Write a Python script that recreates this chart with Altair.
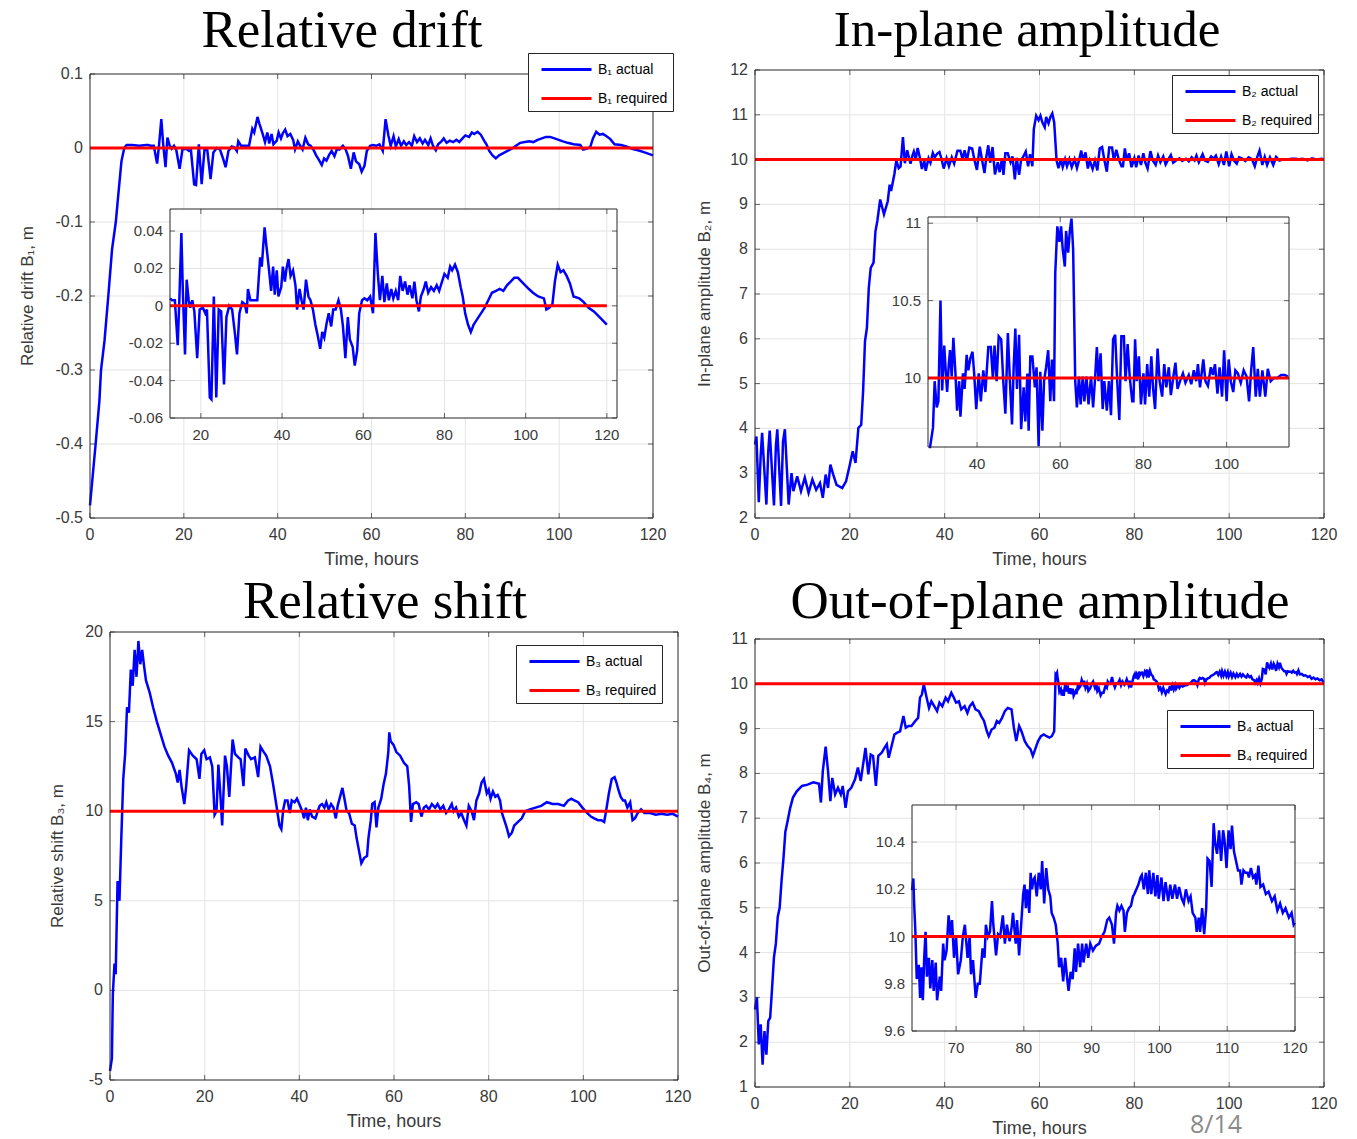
import altair as alt
import pandas as pd

# ---------------- data (time in hours, value) ----------------
s1_actual = [
    (0, -0.483), (1.2, -0.40), (2.0, -0.342), (2.35, -0.30), (3.1, -0.26), (3.9, -0.20),
    (4.7, -0.137), (5.5, -0.10), (5.9, -0.072), (6.7, -0.018), (7.3, 0.0), (7.8, 0.004),
    (9.0, 0.004), (10.5, 0.003), (12.0, 0.004), (12.4, 0.004), (12.9, 0.003), (13.6, 0.003),
    (14.3, -0.021), (14.7, 0.003), (15.2, 0.039), (15.6, 0.005), (16.1, -0.026), (16.5, 0.014),
    (17.0, 0.003), (17.4, -0.001), (17.9, 0.003), (18.4, -0.003), (19.1, -0.028), (19.7, -0.002),
    (20.5, -0.001), (21.1, -0.004), (21.5, -0.002), (22.2, -0.049), (22.6, -0.050), (23.2, 0.005),
    (23.8, -0.049), (24.4, -0.002), (25.0, -0.003), (25.7, -0.042), (26.3, -0.006), (27.0, 0.0),
    (27.7, -0.002), (28.4, -0.015), (28.9, -0.026), (29.5, -0.004), (30.2, 0.002), (30.8, 0.001),
    (31.3, -0.004), (31.6, 0.009), (32.2, 0.003), (32.9, 0.003), (33.9, 0.003), (34.6, 0.026),
    (35.0, 0.021), (35.7, 0.042), (36.1, 0.033), (36.8, 0.019), (37.3, 0.008), (37.8, 0.021),
    (38.2, 0.006), (38.7, 0.019), (39.1, 0.005), (39.8, 0.010), (40.2, 0.021), (40.7, 0.013),
    (41.1, 0.020), (41.6, 0.025), (42.1, 0.016), (42.7, 0.019), (43.3, 0.011), (43.7, -0.002),
    (44.3, 0.009), (44.8, 0.003), (45.3, -0.002), (45.9, 0.014), (46.5, 0.005), (47.0, 0.003),
    (47.6, -0.002), (48.2, -0.010), (48.7, -0.015), (49.4, -0.023), (49.9, -0.014), (50.4, -0.017),
    (51.0, -0.009), (51.5, -0.004), (52.1, -0.011), (52.6, -0.002), (53.2, -0.002), (53.9, 0.003),
    (54.5, -0.002), (55.0, -0.011), (55.6, -0.028), (56.2, -0.006), (56.7, -0.018), (57.4, -0.022),
    (57.9, -0.032), (58.5, -0.024), (59.0, -0.004), (59.7, 0.003), (60.3, 0.004), (61.0, 0.003),
    (61.7, 0.005), (62.4, -0.004), (63.0, 0.039), (63.6, 0.017), (64.1, 0.003), (64.7, 0.016),
    (65.2, 0.002), (65.8, 0.012), (66.3, 0.003), (66.9, 0.009), (67.4, 0.004), (68.0, 0.008),
    (68.6, 0.003), (69.1, 0.016), (69.7, 0.008), (70.3, 0.013), (70.9, 0.006), (71.4, 0.011),
    (72.1, 0.004), (72.6, 0.013), (73.1, 0.003), (73.7, -0.003), (74.2, 0.005), (74.9, 0.009),
    (75.4, 0.013), (76.0, 0.007), (76.7, 0.010), (77.4, 0.008), (78.1, 0.011), (78.7, 0.008),
    (79.4, 0.013), (80.0, 0.017), (80.8, 0.015), (81.4, 0.021), (81.9, 0.019), (82.6, 0.022),
    (83.3, 0.018), (84.0, 0.010), (84.5, 0.005), (85.1, -0.004), (85.8, -0.010), (86.5, -0.014),
    (87.2, -0.010), (88.1, -0.007), (89.0, -0.004), (89.9, -0.001), (90.8, 0.003), (91.7, 0.007),
    (92.7, 0.008), (93.6, 0.009), (94.5, 0.008), (95.4, 0.011), (96.3, 0.013), (97.2, 0.015),
    (98.1, 0.015), (99.0, 0.013), (99.9, 0.011), (100.8, 0.009), (101.8, 0.007), (103.1, 0.005),
    (104.5, 0.004), (105.1, -0.002), (105.8, -0.001), (106.6, 0.001), (107.2, 0.013), (107.9, 0.022),
    (108.6, 0.018), (109.3, 0.019), (110.1, 0.016), (110.9, 0.012), (111.8, 0.005), (113.2, 0.004),
    (114.3, 0.002), (115.5, -0.001), (116.8, -0.003), (118.2, -0.006), (120.0, -0.010),
]

s2_actual = [
    (0, 3.64), (0.3, 3.82), (0.8, 2.35), (1.2, 3.4), (1.5, 3.9), (2.4, 2.3), (2.8, 3.5),
    (3.1, 3.95), (4.0, 2.28), (4.4, 3.6), (4.7, 3.98), (5.5, 2.27), (5.9, 3.7), (6.3, 3.98),
    (7.1, 2.3), (7.7, 3.0), (8.1, 2.6), (8.9, 2.93), (9.7, 2.6), (10.5, 2.9), (11.3, 2.56),
    (12.1, 2.86), (12.9, 2.63), (13.7, 2.78), (14.3, 2.45), (14.9, 2.97), (15.4, 2.67),
    (15.9, 3.19), (16.5, 2.97), (17.2, 2.74), (18.4, 2.67), (19.2, 2.82), (20.0, 3.19),
    (20.6, 3.49), (21.2, 3.23), (21.8, 4.01), (22.4, 4.08), (22.8, 4.83), (23.2, 5.95),
    (23.6, 6.24), (24.0, 7.14), (24.4, 7.58), (25.0, 7.7), (25.4, 8.4), (25.8, 8.63),
    (26.4, 9.11), (27.2, 8.78), (28.0, 9.07), (28.4, 9.44), (28.7, 9.3), (29.4, 9.68),
    (29.8, 9.98), (30.3, 9.81), (30.7, 9.85), (31.2, 10.50), (31.6, 9.92), (32.1, 10.21),
    (32.5, 10.03), (32.8, 9.91), (33.2, 10.09), (33.5, 10.18), (33.9, 10.01), (34.3, 10.26),
    (34.8, 10.03), (35.2, 9.79), (35.7, 9.98), (36.0, 9.75), (36.6, 10.03), (37.0, 9.93),
    (37.5, 10.15), (37.9, 10.05), (38.4, 10.13), (38.9, 10.17), (39.3, 10.03), (39.8, 9.80),
    (40.4, 10.03), (40.9, 9.85), (41.5, 10.05), (42.0, 9.91), (42.7, 10.20), (43.3, 10.20),
    (43.8, 10.0), (44.2, 10.21), (44.7, 9.98), (45.2, 10.27), (45.8, 10.25), (46.3, 9.98),
    (46.8, 9.77), (47.4, 10.29), (47.9, 9.98), (48.4, 9.70), (48.8, 10.07), (49.2, 10.32),
    (49.6, 9.93), (50.1, 10.28), (50.6, 9.67), (51.2, 9.94), (51.6, 9.72), (52.1, 10.03),
    (52.4, 9.66), (52.8, 10.14), (53.3, 10.14), (53.9, 9.94), (54.3, 10.07), (54.8, 9.56),
    (55.2, 10.04), (55.7, 9.66), (56.1, 9.98), (56.6, 10.07), (57.1, 10.18), (57.6, 9.85),
    (58.0, 10.12), (58.5, 9.85), (58.8, 10.68), (59.3, 10.98), (59.8, 10.88), (60.2, 10.98),
    (60.6, 10.83), (61.1, 10.72), (61.4, 10.95), (61.9, 10.81), (62.3, 10.95), (62.7, 11.03),
    (63.1, 10.83), (63.6, 9.98), (64.0, 9.81), (64.5, 10.01), (64.9, 9.83), (65.4, 10.01),
    (65.8, 9.85), (66.3, 10.01), (66.8, 9.83), (67.4, 10.01), (67.9, 9.81), (68.4, 10.01),
    (68.8, 10.20), (69.2, 9.98), (69.7, 10.16), (70.2, 9.80), (70.6, 9.98), (71.2, 9.79),
    (71.7, 9.98), (72.2, 9.76), (72.7, 10.25), (73.2, 10.28), (73.7, 9.98), (74.2, 9.73),
    (74.7, 10.27), (75.3, 10.27), (75.7, 9.98), (76.2, 10.22), (76.7, 10.01), (77.3, 9.85),
    (77.6, 9.85), (78.0, 10.25), (78.4, 9.98), (78.9, 10.14), (79.4, 9.83), (80.0, 10.03),
    (80.4, 9.83), (80.9, 10.09), (81.4, 9.88), (81.9, 10.14), (82.3, 9.94), (82.8, 9.80),
    (83.4, 10.19), (83.9, 9.98), (84.5, 9.88), (85.0, 10.09), (85.5, 9.94), (86.1, 10.07),
    (86.6, 9.89), (87.2, 10.01), (87.7, 10.10), (88.2, 9.93), (88.8, 9.98), (89.5, 10.03),
    (90.1, 9.97), (90.9, 10.02), (91.5, 9.96), (92.1, 10.05), (92.7, 9.98), (93.1, 10.09),
    (93.6, 9.94), (94.4, 10.12), (94.9, 9.98), (95.5, 9.95), (96.2, 10.07), (96.7, 10.02),
    (97.2, 10.09), (97.8, 9.90), (98.3, 10.07), (98.9, 9.88), (99.4, 10.18), (100.0, 9.85),
    (100.5, 10.12), (101.0, 9.98), (101.6, 9.91), (102.1, 10.05), (102.7, 10.03), (103.4, 9.97),
    (104.1, 10.05), (104.8, 10.01), (105.4, 9.85), (105.9, 10.05), (106.4, 10.20), (107.0, 9.88),
    (107.5, 10.06), (108.0, 9.88), (108.6, 10.05), (109.3, 9.88), (109.9, 10.06), (110.6, 9.98),
    (111.3, 10.0), (112.2, 10.0), (113.1, 10.02), (114.0, 10.02), (114.7, 10.01), (115.5, 10.02),
    (116.5, 9.98), (117.5, 10.03), (118.5, 10.0), (119.5, 10.02), (120.0, 10.0),
]

s3_actual = [
    (0, -4.5), (0.4, -3.8), (0.6, -0.2), (0.95, 1.5), (1.2, 0.9), (1.6, 6.1), (2.0, 5.0),
    (2.4, 8.6), (2.8, 11.8), (3.2, 13.2), (3.6, 15.8), (4.0, 15.5), (4.4, 17.9), (4.8, 17.0),
    (5.2, 19.0), (5.6, 17.5), (6.0, 19.5), (6.4, 18.2), (6.8, 19.0), (7.2, 18.1), (7.6, 17.3),
    (8.4, 16.6), (9.1, 15.8), (9.9, 15.0), (10.7, 14.3), (11.5, 13.6), (12.3, 13.1), (13.1, 12.7),
    (13.9, 12.1), (14.3, 11.6), (14.7, 12.3), (15.1, 11.4), (15.7, 10.4), (16.1, 11.4),
    (16.7, 13.4), (17.5, 13.1), (18.3, 12.9), (18.9, 11.8), (19.3, 13.2), (19.9, 13.4),
    (20.4, 12.9), (21.1, 13.0), (21.6, 12.5), (22.1, 9.8), (22.5, 10.0), (22.9, 12.6),
    (23.3, 11.0), (23.7, 9.2), (24.3, 13.1), (24.7, 12.5), (25.2, 10.8), (25.9, 14.0),
    (26.4, 13.2), (27.1, 13.0), (27.6, 12.9), (28.2, 11.4), (28.6, 13.5), (29.3, 13.1),
    (29.8, 12.9), (30.6, 13.0), (31.3, 11.9), (31.8, 13.6), (32.5, 13.3), (33.0, 13.1),
    (33.8, 12.5), (34.4, 11.6), (35.0, 10.6), (35.4, 9.9), (35.8, 9.2), (36.2, 9.0),
    (36.6, 10.1), (37.0, 10.6), (37.5, 10.6), (38.0, 9.9), (38.4, 10.6), (39.0, 10.5),
    (39.5, 10.7), (40.0, 10.4), (40.6, 10.0), (41.0, 9.6), (41.4, 10.2), (41.8, 9.5),
    (42.2, 10.1), (42.7, 9.7), (43.4, 9.6), (43.9, 10.0), (44.3, 10.3), (44.8, 10.4),
    (45.3, 10.2), (45.7, 10.5), (46.2, 10.1), (46.7, 10.4), (47.2, 10.2), (47.7, 9.6),
    (48.1, 10.3), (48.6, 10.8), (49.1, 11.3), (49.6, 10.6), (50.0, 10.0), (50.5, 9.9),
    (51.1, 9.3), (51.7, 9.2), (52.1, 8.5), (52.6, 7.8), (53.1, 7.1), (53.7, 7.4), (54.3, 7.5),
    (54.6, 8.5), (55.1, 9.5), (55.4, 10.4), (55.9, 10.5), (56.3, 9.1), (56.7, 10.2),
    (57.3, 10.7), (57.8, 11.5), (58.3, 12.1), (58.8, 13.3), (59.0, 14.4), (59.3, 13.9),
    (59.9, 13.7), (60.5, 13.3), (61.3, 13.1), (62.1, 12.7), (62.8, 12.5), (63.2, 11.4),
    (63.6, 9.4), (64.0, 10.4), (64.7, 10.5), (65.2, 10.4), (65.8, 9.7), (66.3, 10.2),
    (66.8, 10.3), (67.4, 10.1), (68.0, 10.4), (68.7, 10.2), (69.2, 10.4), (69.8, 10.1),
    (70.4, 10.3), (71.0, 9.9), (71.6, 10.1), (72.2, 10.4), (72.6, 10.0), (73.1, 10.2),
    (73.7, 9.7), (74.2, 9.9), (74.8, 9.5), (75.3, 9.2), (75.8, 10.3), (76.4, 10.0), (76.9, 9.5),
    (77.4, 10.6), (78.0, 11.0), (78.5, 11.6), (79.0, 11.8), (79.6, 11.0), (80.0, 11.2),
    (80.4, 10.7), (80.9, 11.1), (81.4, 10.8), (81.9, 10.9), (82.4, 10.6), (82.8, 9.9),
    (83.3, 9.5), (83.8, 9.1), (84.3, 8.6), (84.9, 8.8), (85.4, 9.2), (86.2, 9.4), (87.0, 9.6),
    (87.7, 10.0), (88.7, 10.1), (89.9, 10.2), (91.1, 10.3), (92.3, 10.5), (93.5, 10.4),
    (94.7, 10.4), (95.9, 10.3), (96.8, 10.6), (97.5, 10.7), (98.1, 10.6), (98.9, 10.5),
    (99.8, 10.2), (100.8, 9.9), (101.6, 9.7), (102.3, 9.6), (103.1, 9.5), (103.8, 9.5),
    (104.4, 9.4), (104.8, 10.0), (105.4, 11.0), (106.0, 11.8), (106.6, 11.9), (107.0, 11.6),
    (107.4, 11.2), (107.9, 10.8), (108.4, 10.6), (108.8, 10.6), (109.3, 10.2), (109.9, 10.5),
    (110.4, 9.5), (110.9, 9.6), (111.5, 9.9), (112.2, 10.1), (112.9, 9.9), (114.1, 9.9),
    (115.3, 9.8), (116.5, 9.85), (117.7, 9.8), (118.9, 9.85), (120.0, 9.7),
]

s4_actual = [
    (0, 2.73), (0.4, 3.0), (0.8, 1.95), (1.2, 2.4), (1.6, 1.5), (2.0, 2.25), (2.4, 1.72),
    (2.8, 2.47), (3.2, 2.55), (3.6, 3.2), (4.0, 3.9), (4.4, 4.2), (4.8, 4.8), (5.2, 5.0),
    (5.6, 5.6), (6.0, 6.1), (6.4, 6.7), (6.9, 6.95), (7.4, 7.22), (8.0, 7.46), (8.8, 7.6),
    (9.9, 7.72), (11.1, 7.75), (12.3, 7.8), (13.5, 7.77), (13.9, 7.35), (14.3, 8.05),
    (14.9, 8.6), (15.4, 8.05), (15.9, 7.38), (16.3, 7.9), (16.9, 7.53), (17.5, 7.68),
    (18.1, 7.53), (18.5, 7.72), (19.1, 7.23), (19.6, 7.6), (20.3, 7.68), (21.1, 7.87),
    (21.7, 8.13), (22.3, 7.83), (22.8, 8.2), (23.3, 8.57), (23.9, 7.98), (24.4, 8.42),
    (24.9, 8.39), (25.5, 7.72), (26.0, 8.39), (26.7, 8.46), (27.3, 8.57), (27.8, 8.65),
    (28.2, 8.35), (28.9, 8.65), (29.4, 8.87), (30.0, 8.91), (30.6, 8.94), (31.3, 9.28),
    (31.8, 9.02), (32.4, 9.06), (33.0, 9.06), (33.8, 9.17), (34.4, 9.24), (34.8, 9.69),
    (35.2, 9.76), (35.6, 9.99), (36.2, 9.69), (36.7, 9.46), (37.2, 9.61), (37.8, 9.5),
    (38.4, 9.39), (38.9, 9.58), (39.5, 9.5), (40.2, 9.69), (40.7, 9.61), (41.4, 9.8),
    (41.8, 9.72), (42.4, 9.58), (43.0, 9.61), (43.5, 9.43), (44.2, 9.5), (44.8, 9.35),
    (45.3, 9.5), (45.9, 9.58), (46.5, 9.43), (47.2, 9.39), (47.7, 9.28), (48.3, 9.17),
    (48.9, 8.94), (49.3, 8.83), (49.9, 8.98), (50.5, 9.02), (51.0, 9.17), (51.5, 9.13),
    (52.1, 9.24), (52.7, 9.39), (53.3, 9.46), (54.1, 9.43), (54.6, 9.02), (55.1, 8.72),
    (55.7, 9.06), (56.2, 8.94), (56.9, 8.72), (57.5, 8.61), (58.1, 8.54), (58.6, 8.39),
    (59.1, 8.54), (59.7, 8.72), (60.3, 8.83), (60.9, 8.87), (61.5, 8.83), (62.1, 8.8),
    (62.6, 8.83), (63.1, 8.94), (63.4, 10.21), (63.5, 10.196), (63.7, 10.246), (63.8, 10.15),
    (64.0, 10.02), (64.2, 9.82), (64.5, 9.88), (64.7, 9.74), (64.9, 9.87), (65.1, 9.73),
    (65.3, 9.91), (65.5, 10.02), (65.7, 9.83), (66.0, 9.91), (66.2, 9.78), (66.5, 9.90),
    (66.7, 9.77), (67.0, 9.89), (67.2, 9.73), (67.6, 9.83), (67.8, 9.77), (68.1, 9.97),
    (68.3, 9.90), (68.6, 9.94), (68.9, 10.09), (69.2, 10.0), (69.4, 10.07), (69.7, 9.91),
    (70.0, 10.0), (70.3, 9.84), (70.7, 9.90), (71.0, 10.0), (71.3, 10.05), (71.7, 9.91),
    (72.0, 10.0), (72.2, 9.84), (72.5, 9.90), (72.9, 9.74), (73.2, 9.80), (73.5, 9.80),
    (73.9, 9.95), (74.2, 9.91), (74.4, 10.05), (74.7, 10.0), (75.0, 10.02), (75.3, 10.15),
    (75.5, 10.05), (75.9, 9.92), (76.2, 10.01), (76.5, 10.0), (76.9, 10.09), (77.2, 9.97),
    (77.5, 10.05), (77.9, 9.98), (78.2, 10.04), (78.4, 10.10), (78.8, 9.97), (79.0, 10.07),
    (79.3, 9.92), (79.6, 10.05), (79.9, 10.18), (80.1, 10.22), (80.3, 10.12), (80.5, 10.20),
    (80.8, 10.10), (81.0, 10.27), (81.2, 10.20), (81.4, 10.24), (81.6, 10.25), (81.9, 10.17),
    (82.2, 10.27), (82.5, 10.20), (82.7, 10.32), (83.0, 10.14), (83.3, 10.29), (83.6, 10.20),
    (83.9, 10.17), (84.1, 10.10), (84.4, 10.08), (84.7, 10.05), (85.0, 9.97), (85.2, 9.87),
    (85.5, 9.91), (85.8, 9.81), (86.1, 9.91), (86.4, 9.82), (86.6, 9.77), (86.9, 9.85),
    (87.2, 9.82), (87.5, 9.95), (87.7, 9.85), (88.0, 9.97), (88.3, 9.87), (88.6, 9.97),
    (88.8, 9.89), (89.2, 9.97), (89.5, 9.91), (89.8, 9.97), (90.2, 9.94), (90.6, 9.96),
    (91.1, 9.97), (91.5, 10.0), (91.9, 10.02), (92.3, 10.07), (92.6, 10.08), (93.0, 10.05),
    (93.3, 9.97), (93.6, 10.10), (93.8, 10.13), (94.1, 10.11), (94.4, 10.13), (94.7, 10.11),
    (94.9, 10.02), (95.2, 10.10), (95.5, 10.12), (95.8, 10.13), (96.1, 10.17), (96.3, 10.18),
    (96.6, 10.20), (96.9, 10.22), (97.2, 10.25), (97.4, 10.26), (97.7, 10.20), (98.0, 10.27),
    (98.3, 10.18), (98.5, 10.28), (98.8, 10.18), (99.1, 10.27), (99.4, 10.17), (99.7, 10.26),
    (99.9, 10.16), (100.3, 10.25), (100.6, 10.15), (100.9, 10.23), (101.3, 10.15), (101.6, 10.22),
    (101.9, 10.16), (102.3, 10.22), (102.6, 10.16), (102.9, 10.21), (103.3, 10.16), (103.6, 10.14),
    (103.9, 10.20), (104.3, 10.15), (104.6, 10.17), (104.9, 10.10), (105.3, 10.08), (105.5, 10.02),
    (105.8, 10.08), (106.0, 10.02), (106.3, 10.12), (106.6, 10.01), (106.9, 10.12), (107.1, 10.33),
    (107.4, 10.32), (107.7, 10.21), (108.0, 10.48), (108.2, 10.40), (108.5, 10.35), (108.8, 10.45),
    (109.1, 10.32), (109.4, 10.45), (109.6, 10.41), (109.9, 10.29), (110.2, 10.45), (110.5, 10.37),
    (110.7, 10.47), (111.0, 10.36), (111.3, 10.32), (111.6, 10.28), (111.9, 10.28), (112.1, 10.22),
    (112.4, 10.28), (112.7, 10.27), (113.0, 10.27), (113.2, 10.25), (113.5, 10.29), (113.8, 10.25),
    (114.1, 10.26), (114.3, 10.22), (114.6, 10.30), (114.9, 10.21), (115.3, 10.22), (115.7, 10.18),
    (116.1, 10.19), (116.6, 10.15), (117.0, 10.17), (117.4, 10.11), (117.8, 10.14), (118.2, 10.10),
    (118.6, 10.12), (119.1, 10.08), (119.5, 10.10), (119.8, 10.05), (120.0, 10.06),
]

required_values = [0.0, 10.0, 10.0, 10.0]
panel_titles = ["Relative drift", "In-plane amplitude", "Relative shift", "Out-of-plane amplitude"]
y_titles = ["Relative drift B\u2081, m", "In-plane amplitude B\u2082, m",
            "Relative shift B\u2083, m", "Out-of-plane amplitude B\u2084, m"]
subs = ["\u2081", "\u2082", "\u2083", "\u2084"]
x_title = "Time, hours"
page_label = "8/14"

x_ticks_main = [0, 20, 40, 60, 80, 100, 120]
x_labels_main = ["0", "20", "40", "60", "80", "100", "120"]
y_ticks = [
    [0.1, 0, -0.1, -0.2, -0.3, -0.4, -0.5],
    [2, 3, 4, 5, 6, 7, 8, 9, 10, 11, 12],
    [-5, 0, 5, 10, 15, 20],
    [1, 2, 3, 4, 5, 6, 7, 8, 9, 10, 11],
]
y_labels = [
    ["0.1", "0", "-0.1", "-0.2", "-0.3", "-0.4", "-0.5"],
    ["2", "3", "4", "5", "6", "7", "8", "9", "10", "11", "12"],
    ["-5", "0", "5", "10", "15", "20"],
    ["1", "2", "3", "4", "5", "6", "7", "8", "9", "10", "11"],
]
inset_x_ticks = {0: [20, 40, 60, 80, 100, 120], 1: [40, 60, 80, 100], 3: [70, 80, 90, 100, 110, 120]}
inset_x_labels = {0: ["20", "40", "60", "80", "100", "120"], 1: ["40", "60", "80", "100"],
                  3: ["70", "80", "90", "100", "110", "120"]}
inset_y_ticks = {0: [-0.06, -0.04, -0.02, 0, 0.02, 0.04], 1: [10, 10.5, 11], 3: [9.6, 9.8, 10, 10.2, 10.4]}
inset_y_labels = {0: ["-0.06", "-0.04", "-0.02", "0", "0.02", "0.04"], 1: ["10", "10.5", "11"],
                  3: ["9.6", "9.8", "10", "10.2", "10.4"]}

series = [s1_actual, s2_actual, s3_actual, s4_actual]

# ---------------- layout (pixels) and style ----------------
W, H = 1357, 1139
main_geom = [
    dict(x0=90, x1=653, y0=518, y1=74, xdom=[0, 120], ydom=[-0.5, 0.1]),
    dict(x0=755, x1=1324, y0=518, y1=70, xdom=[0, 120], ydom=[2, 12]),
    dict(x0=110, x1=678, y0=1080, y1=632, xdom=[0, 120], ydom=[-5, 20]),
    dict(x0=755, x1=1324, y0=1087, y1=639, xdom=[0, 120], ydom=[1, 11]),
]
inset_geom = {
    0: dict(x0=170, x1=617, y0=418, y1=209, xdom=[12.4, 122.5], ydom=[-0.06, 0.0518]),
    1: dict(x0=928, x1=1289, y0=447, y1=217, xdom=[28.2, 115.0], ydom=[9.555, 11.04]),
    3: dict(x0=912, x1=1295, y0=1031, y1=805, xdom=[63.5, 120.0], ydom=[9.6, 10.557]),
}
legend_pos = [(528, 53), (1172, 75), (516, 645), (1167, 710)]
title_pos = [(342, 47), (1027, 46), (385, 618), (1040, 618)]
title_size = [53, 51, 53, 53]
ytitle_x = [28, 705, 58, 705]

FONT = "Liberation Sans"
AX_COL = "#262626"
LAB_COL = "#3a3a3a"
GRID_COL = "#e4e4e4"
BLUE = "#0000ff"
RED = "#ff0000"


def scales(g):
    xs = alt.Scale(domain=g["xdom"], range=[g["x0"], g["x1"]], nice=False, zero=False)
    ys = alt.Scale(domain=g["ydom"], range=[g["y0"], g["y1"]], nice=False, zero=False, clamp=True)
    return xs, ys


def X(f, xs):
    return alt.X(f, scale=xs, axis=None)


def Y(f, ys):
    return alt.Y(f, scale=ys, axis=None)


def frame_layers(g, xt, xl, yt, yl, xs, ys, lab_size, inset=False):
    layers = []
    box = pd.DataFrame({"xa": [g["xdom"][0]], "xb": [g["xdom"][1]],
                        "ya": [g["ydom"][0]], "yb": [g["ydom"][1]]})
    if inset:
        layers.append(alt.Chart(box).mark_rect(fill="white").encode(
            x=X("xa:Q", xs), x2="xb", y=Y("ya:Q", ys), y2="yb"))
    # grid
    vg = pd.DataFrame({"gx": [v for v in xt if g["xdom"][0] < v < g["xdom"][1]]})
    vg["ya"] = g["ydom"][0]
    vg["yb"] = g["ydom"][1]
    hg = pd.DataFrame({"gy": [v for v in yt if g["ydom"][0] < v < g["ydom"][1]]})
    hg["xa"] = g["xdom"][0]
    hg["xb"] = g["xdom"][1]
    layers.append(alt.Chart(vg).mark_rule(color=GRID_COL, strokeWidth=1).encode(
        x=X("gx:Q", xs), y=Y("ya:Q", ys), y2="yb"))
    layers.append(alt.Chart(hg).mark_rule(color=GRID_COL, strokeWidth=1).encode(
        y=Y("gy:Q", ys), x=X("xa:Q", xs), x2="xb"))
    # tick marks (inward, on all four sides)
    xtk = pd.DataFrame({"tv": xt, "ya": g["ydom"][0], "yb": g["ydom"][1]})
    ytk = pd.DataFrame({"tv": yt, "xa": g["xdom"][0], "xb": g["xdom"][1]})
    layers.append(alt.Chart(xtk).mark_tick(orient="vertical", size=5, thickness=1, color=AX_COL,
                                           yOffset=-2.5).encode(x=X("tv:Q", xs), y=Y("ya:Q", ys)))
    layers.append(alt.Chart(xtk).mark_tick(orient="vertical", size=5, thickness=1, color=AX_COL,
                                           yOffset=2.5).encode(x=X("tv:Q", xs), y=Y("yb:Q", ys)))
    layers.append(alt.Chart(ytk).mark_tick(orient="horizontal", size=5, thickness=1, color=AX_COL,
                                           xOffset=2.5).encode(y=Y("tv:Q", ys), x=X("xa:Q", xs)))
    layers.append(alt.Chart(ytk).mark_tick(orient="horizontal", size=5, thickness=1, color=AX_COL,
                                           xOffset=-2.5).encode(y=Y("tv:Q", ys), x=X("xb:Q", xs)))
    # tick labels
    xlab = pd.DataFrame({"tv": xt, "lab": xl, "ya": g["ydom"][0]})
    ylab = pd.DataFrame({"tv": yt, "lab": yl, "xa": g["xdom"][0]})
    layers.append(alt.Chart(xlab).mark_text(font=FONT, fontSize=lab_size, color=LAB_COL, align="center",
                                            baseline="top", dy=9 if not inset else 10).encode(
        x=X("tv:Q", xs), y=Y("ya:Q", ys), text="lab:N"))
    layers.append(alt.Chart(ylab).mark_text(font=FONT, fontSize=lab_size, color=LAB_COL, align="right",
                                            baseline="middle", dx=-7).encode(
        y=Y("tv:Q", ys), x=X("xa:Q", xs), text="lab:N"))
    return layers, box


def border_layer(box, xs, ys):
    return alt.Chart(box).mark_rect(fillOpacity=0, stroke=AX_COL, strokeWidth=1).encode(
        x=X("xa:Q", xs), x2="xb", y=Y("ya:Q", ys), y2="yb")


panels = []
for i in range(4):
    g = main_geom[i]
    xs, ys = scales(g)
    layers, box = frame_layers(g, x_ticks_main, x_labels_main, y_ticks[i], y_labels[i], xs, ys, 16)
    # axis titles
    xt_df = pd.DataFrame({"lab": [x_title], "xm": [sum(g["xdom"]) / 2], "ya": [g["ydom"][0]]})
    layers.append(alt.Chart(xt_df).mark_text(font=FONT, fontSize=18, color=LAB_COL, align="center",
                                             baseline="top", dy=33).encode(
        x=X("xm:Q", xs), y=Y("ya:Q", ys), text="lab:N"))
    yt_df = pd.DataFrame({"lab": [y_titles[i]], "ym": [sum(g["ydom"]) / 2]})
    layers.append(alt.Chart(yt_df).mark_text(font=FONT, fontSize=17, color=LAB_COL, align="center",
                                             baseline="middle", angle=270).encode(
        y=Y("ym:Q", ys), x=alt.value(ytitle_x[i]), text="lab:N"))
    # lines with legend
    a_name = "B" + subs[i] + " actual"
    r_name = "B" + subs[i] + " required"
    cscale = alt.Scale(domain=[a_name, r_name], range=[BLUE, RED])
    lx, ly = legend_pos[i]
    leg = alt.Legend(orient="none", legendX=lx, legendY=ly, title=None,
                     symbolType="M-0.3,0H4.7", symbolSize=400, symbolStrokeWidth=3,
                     labelFont=FONT, labelFontSize=14, labelColor="#000000",
                     padding=5, rowPadding=10, labelOffset=42,
                     strokeColor=AX_COL, fillColor="white", cornerRadius=0, zindex=3)
    act = pd.DataFrame(series[i], columns=["t", "v"])
    act["series"] = a_name
    req = pd.DataFrame({"t": [0, 120], "v": [required_values[i]] * 2, "series": [r_name] * 2})
    layers.append(alt.Chart(act).mark_line(strokeWidth=2.5).encode(
        x=X("t:Q", xs), y=Y("v:Q", ys),
        color=alt.Color("series:N", scale=cscale, legend=leg), order="t:Q"))
    layers.append(alt.Chart(req).mark_line(strokeWidth=3).encode(
        x=X("t:Q", xs), y=Y("v:Q", ys),
        color=alt.Color("series:N", scale=cscale, legend=leg)))
    layers.append(border_layer(box, xs, ys))
    tx, ty = title_pos[i]
    tdf = pd.DataFrame({"title": [panel_titles[i]]})
    layers.append(alt.Chart(tdf).mark_text(font="Liberation Serif", fontSize=title_size[i], color="#000000",
                                           align="center", baseline="alphabetic").encode(
        text="title:N", x=alt.value(tx), y=alt.value(ty)))
    if i == 3:
        pdf = pd.DataFrame({"page": [page_label]})
        layers.append(alt.Chart(pdf).mark_text(font="Open Sans", fontSize=25, color="#8a8a8a",
                                               align="center", baseline="alphabetic").encode(
            text="page:N", x=alt.value(1216), y=alt.value(1133)))
    panels.append(alt.layer(*layers))

for i, g in inset_geom.items():
    xs, ys = scales(g)
    layers, box = frame_layers(g, inset_x_ticks[i], inset_x_labels[i], inset_y_ticks[i],
                               inset_y_labels[i], xs, ys, 15, inset=True)
    act = pd.DataFrame(series[i], columns=["t", "v"])
    act = act[(act["t"] >= g["xdom"][0]) & (act["t"] <= g["xdom"][1])]
    req_end = min(120, g["xdom"][1])
    req = pd.DataFrame({"t": [g["xdom"][0], req_end], "v": [required_values[i]] * 2})
    layers.append(alt.Chart(act).mark_line(strokeWidth=2.5, color=BLUE).encode(
        x=X("t:Q", xs), y=Y("v:Q", ys), order="t:Q"))
    layers.append(alt.Chart(req).mark_line(strokeWidth=3, color=RED).encode(
        x=X("t:Q", xs), y=Y("v:Q", ys)))
    layers.append(border_layer(box, xs, ys))
    panels.append(alt.layer(*layers))

chart = alt.layer(*panels).resolve_scale(
    x="independent", y="independent", color="independent"
).properties(
    width=W, height=H, padding=0, autosize=alt.AutoSizeParams(type="none"), background="white"
).configure_view(strokeWidth=0)

chart.save("out.html", embed_options={"renderer": "svg", "actions": False})
